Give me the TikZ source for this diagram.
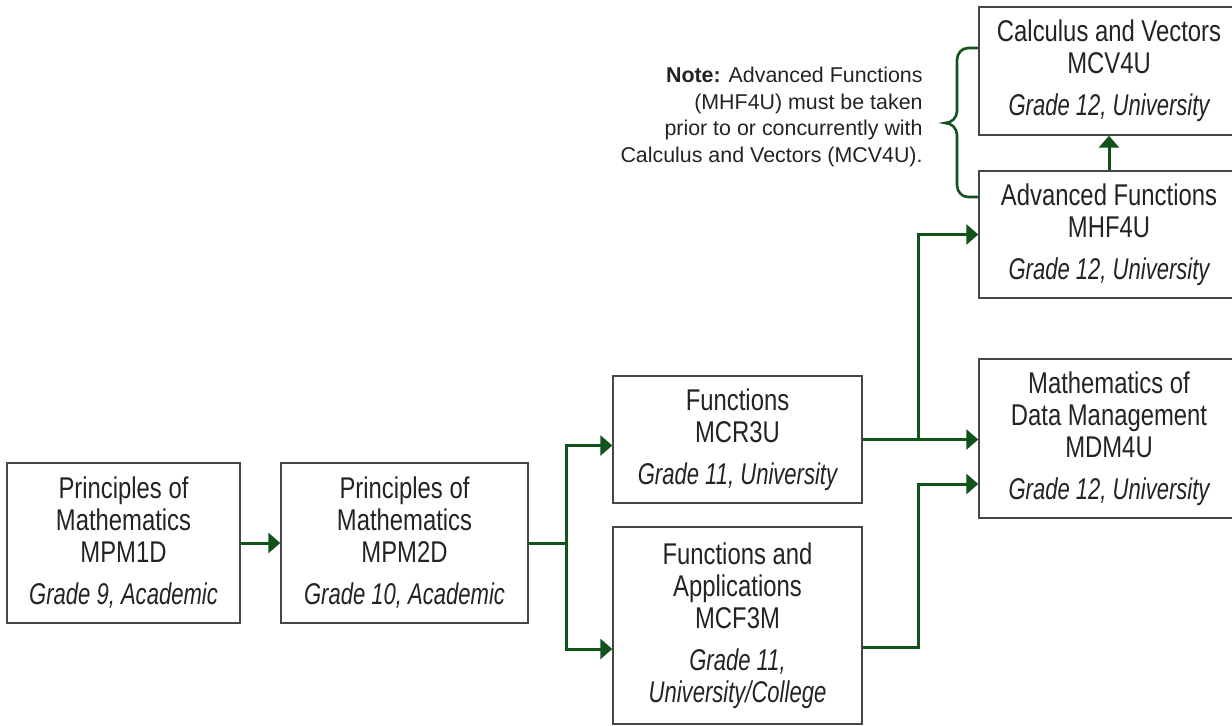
\documentclass[tikz,border=0pt]{standalone}
\usepackage{fontspec}
\setmainfont{Liberation Sans}
\newfontfamily\boxfont{Liberation Sans}[FakeStretch=0.795]
\newfontfamily\gradefont{Liberation Sans}[FakeStretch=0.735]
\usetikzlibrary{arrows.meta}
\definecolor{pathgreen}{RGB}{16,84,28}
\definecolor{boxgray}{RGB}{70,70,70}
\definecolor{txtgray}{RGB}{35,35,35}
\newcommand{\gradeline}[1]{{\gradefont\itshape #1}}

\begin{document}
\begin{tikzpicture}[%
x=0.5pt, y=-0.5pt,
course/.style={draw=boxgray, line width=0.7pt, inner sep=0pt, align=center, text=txtgray,
  font=\boxfont\fontsize{15}{16}\selectfont},
link/.style={draw=pathgreen, line width=1.5pt, -{Triangle[length=6pt,width=10pt]}},
notebrace/.style={draw=pathgreen, line width=1.3pt},
]
\useasboundingbox (0,0) rectangle (1232,725);
\clip (0,0) rectangle (1232,725);
%% course;
\node[course, minimum width=116.5pt, minimum height=80pt] (mpm1d) at (123.5,543)
  {Principles of\\Mathematics\\MPM1D\\[5pt]\gradeline{Grade 9, Academic}};
%% course;
\node[course, minimum width=123.5pt, minimum height=80pt] (mpm2d) at (404.5,543)
  {Principles of\\Mathematics\\MPM2D\\[5pt]\gradeline{Grade 10, Academic}};
%% course;
\node[course, minimum width=124.5pt, minimum height=63.5pt] (mcr3u) at (737.5,439.5)
  {Functions\\MCR3U\\[5pt]\gradeline{Grade 11, University}};
%% course;
\node[course, minimum width=124.5pt, minimum height=98.5pt] (mcf3m) at (737.5,625.5)
  {Functions and\\Applications\\MCF3M\\[5pt]\gradeline{Grade 11,}\\\gradeline{University/College}};
%% course;
\node[course, minimum width=130pt, minimum height=64pt] (mcv4u) at (1109,71)
  {Calculus and Vectors\\MCV4U\\[5pt]\gradeline{Grade 12, University}};
%% course;
\node[course, minimum width=130pt, minimum height=63.5pt] (mhf4u) at (1109,234.5)
  {Advanced Functions\\MHF4U\\[5pt]\gradeline{Grade 12, University}};
%% course;
\node[course, minimum width=130pt, minimum height=79.5pt] (mdm4u) at (1109,438.5)
  {Mathematics of\\Data Management\\MDM4U\\[5pt]\gradeline{Grade 12, University}};
%% note;
\node[anchor=east, align=right, inner sep=0pt, text=txtgray, font=\fontsize{10.7}{13.3}\selectfont] (note) at (923,117)
  {\textbf{Note:} Advanced Functions\\(MHF4U) must be taken\\prior to or concurrently with\\Calculus and Vectors (MCV4U).};
%% junctions;
\coordinate (jA) at (566,543);
\coordinate (jB) at (918,439.5);
\coordinate (jC) at (918,647);
%% arrow;
\draw[link] (mpm1d.east) -- (mpm1d.east -| mpm2d.west);
%% arrow;
\draw[link] (mpm2d.east) -- (jA) |- ([yshift=-3pt]mcr3u.west);
%% arrow;
\draw[link] (jA) |- ([yshift=-11.75pt]mcf3m.west);
%% arrow;
\draw[link] (mcr3u.east) -- (mcr3u.east -| mdm4u.west);
%% arrow;
\draw[link] (jB) |- (mhf4u.west);
%% arrow;
\draw[link] ([yshift=-10.75pt]mcf3m.east) -- (jC) |- ([yshift=-22.75pt]mdm4u.west);
%% arrow;
\draw[link] (mhf4u) -- (mcv4u);
%% brace;
\draw[notebrace] (mcv4u.west |- 0,48) -- (968,48) to[out=180,in=90] (957,60) -- (957,111)
  to[out=-90,in=0] (945,123) to[out=0,in=90] (957,135) -- (957,185)
  to[out=-90,in=180] (968,197) -- (mcv4u.west |- 0,197);
\end{tikzpicture}
\end{document}
